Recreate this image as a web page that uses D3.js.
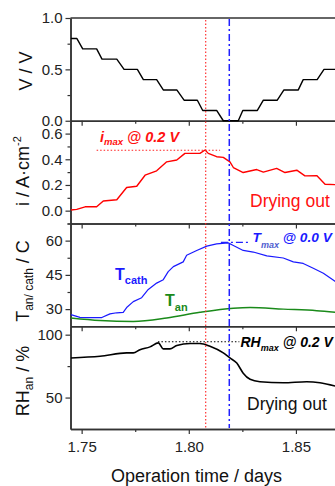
<!DOCTYPE html>
<html><head><meta charset="utf-8">
<script src="https://cdn.jsdelivr.net/npm/d3@7"></script>
<style>
html,body{margin:0;padding:0;background:#fff;}
svg{display:block;font-family:"Liberation Sans",Arial,sans-serif;}
</style></head>
<body><svg id="c" width="335" height="486"></svg>
<script>
// ---------- data ----------
const vTime = [1.7450,1.7478,1.7505,1.7570,1.7595,1.7664,1.7698,1.7760,1.7788,1.7850,1.7881,1.7944,1.7978,1.8040,1.8065,1.8130,1.8161,1.8231,1.8252,1.8320,1.8348,1.8413,1.8444,1.8511,1.8534,1.8599,1.8631,1.8729];
const vVolt = [0.8,0.8,0.7,0.7,0.6,0.6,0.5,0.5,0.4,0.4,0.3,0.3,0.2,0.2,0.1,0.1,0.0,0.0,0.1,0.1,0.2,0.2,0.3,0.3,0.4,0.4,0.5,0.5];

const iTime = [1.7450,1.7477,1.7516,1.7570,1.7601,1.7664,1.7710,1.7757,1.7796,1.7850,1.7897,1.7944,1.7982,1.8052,1.8076,1.8091,1.8130,1.8161,1.8192,1.8208,1.8254,1.8317,1.8348,1.8410,1.8449,1.8504,1.8542,1.8597,1.8636,1.8729];
const iCurr = [0.005,0.01,0.03,0.03,0.075,0.085,0.18,0.19,0.276,0.31,0.38,0.394,0.446,0.446,0.472,0.446,0.42,0.415,0.38,0.336,0.297,0.32,0.30,0.329,0.297,0.315,0.271,0.273,0.206,0.20];

const tcTime = [1.7450,1.7492,1.7539,1.7594,1.7632,1.7664,1.7694,1.7710,1.7741,1.7780,1.7811,1.7850,1.7881,1.7904,1.7928,1.7974,1.7990,1.8037,1.8084,1.8130,1.8184,1.8208,1.8254,1.8301,1.8364,1.8441,1.8488,1.8534,1.8581,1.8628,1.8684];
const tCath  = [27.6,26.4,26.3,26.3,27.9,28.4,28.6,30.7,33.3,35,38.6,41.4,42.9,46.4,48.6,50.7,53.6,55.7,57.6,58.6,59,57.9,55.7,55,53.3,52.4,50.7,50,47.9,45.7,42.1];

const taTime = [1.7450,1.7586,1.7741,1.7897,1.8052,1.8208,1.8286,1.8441,1.8597,1.8684];
const tAn    = [26.1,25.0,24.6,26.1,28.6,30.4,30.7,30.0,29.3,28.6];

const rhTime = [1.7450,1.7586,1.7710,1.7741,1.7772,1.7819,1.7858,1.7881,1.7912,1.7944,1.8006,1.8052,1.8099,1.8161,1.8192,1.8224,1.8254,1.8286,1.8332,1.8441,1.8550,1.8612,1.8684];
const rhAn   = [81.5,82.8,85.5,85.5,88.1,90.3,93.5,88.7,88.7,91.4,93,93,90.8,85.5,81.5,77.4,69.4,64.5,62.6,61.8,62.6,61.8,59.1];

const xTicks = [1.75,1.80,1.85];
const xMinor = [1.775,1.825];
const vTicks = [0.0,0.5,1.0], vMinor=[0.25,0.75];
const iTicks = [0.0,0.2,0.4,0.6], iMinor=[-0.1,0.1,0.3,0.5];
const tTicks = [30,45,60], tMinor=[37.5,52.5,67.5];
const rhTicks = [50,100], rhMinor=[75];

const tRed = 1.8079, tBlue = 1.8189;

// ---------- layout ----------
const svg = d3.select("#c");
const L = 70.5, R = 345, top0 = 18, ph = 102.75;
const x = d3.scaleLinear().domain([1.7448,1.8729]).range([L,R]);
const bands = [0,1,2,3].map(k=>[top0+k*ph, top0+(k+1)*ph]);
const yV  = d3.scaleLinear().domain([0,1]).range([bands[0][1],bands[0][0]]);
const yI  = d3.scaleLinear().domain([-0.1,0.7]).range([bands[1][1],bands[1][0]]);
const yT  = d3.scaleLinear().domain([22.5,67.5]).range([bands[2][1],bands[2][0]]);
const yRH = d3.scaleLinear().domain([25,106.7]).range([bands[3][1],bands[3][0]]);
const axisCol = "#333";

function styleAxis(g){
  g.selectAll("path").attr("stroke",axisCol).attr("stroke-width",1.5);
  g.selectAll("line").attr("stroke",axisCol).attr("stroke-width",1.2);
  g.selectAll("text").attr("fill","#222").style("font-size","15px").style("font-family",'"Liberation Sans",Arial,sans-serif');
}

// top line
svg.append("line").attr("x1",L).attr("x2",R).attr("y1",top0).attr("y2",top0).attr("stroke",axisCol).attr("stroke-width",1.5);

const panels = [[yV,vTicks,vMinor,d=>d.toFixed(1)],[yI,iTicks,iMinor,d=>d.toFixed(1)],[yT,tTicks,tMinor,d=>d3.format("d")(d)],[yRH,rhTicks,rhMinor,d=>d3.format("d")(d)]];
panels.forEach(([y,maj,mn,fmt],k)=>{
  const gl = svg.append("g").attr("transform",`translate(${L},0)`)
    .call(d3.axisLeft(y).tickValues(maj).tickFormat(fmt).tickSize(5).tickPadding(3).tickSizeOuter(0));
  styleAxis(gl);
  const gm = svg.append("g").attr("transform",`translate(${L},0)`)
    .call(d3.axisLeft(y).tickValues(mn).tickFormat("").tickSize(3).tickSizeOuter(0));
  styleAxis(gm);
  const last = k===3;
  const gb = svg.append("g").attr("transform",`translate(0,${bands[k][1]})`)
    .call(d3.axisBottom(x).tickValues(xTicks).tickFormat(last?d3.format(".2f"):"").tickSize(5).tickPadding(7).tickSizeOuter(0));
  styleAxis(gb);
  const gbm = svg.append("g").attr("transform",`translate(0,${bands[k][1]})`)
    .call(d3.axisBottom(x).tickValues(xMinor).tickFormat("").tickSize(3).tickSizeOuter(0));
  styleAxis(gbm);
});

// ---------- lines ----------
function drawLine(tArr,vArr,y,col,curve,w){
  const pts = tArr.map((t,i)=>[t,vArr[i]]);
  svg.append("path").datum(pts)
    .attr("d",d3.line().x(d=>x(d[0])).y(d=>y(d[1])).curve(curve||d3.curveLinear))
    .attr("fill","none").attr("stroke",col).attr("stroke-width",w||1.4).attr("stroke-linejoin","round");
}
drawLine(vTime,vVolt,yV,"#000");
drawLine(iTime,iCurr,yI,"#ff0000");
drawLine(tcTime,tCath,yT,"#1a1aff",d3.curveLinear,1.2);
drawLine(taTime,tAn,yT,"#1a8a1a",d3.curveMonotoneX,1.5);
drawLine(rhTime,rhAn,yRH,"#000",d3.curveMonotoneX,1.6);

// ---------- reference lines ----------
svg.append("line").attr("x1",x(tRed)).attr("x2",x(tRed)).attr("y1",20).attr("y2",428)
  .attr("stroke","#ff2020").attr("stroke-width",1.1).attr("stroke-dasharray","1.5,2");
svg.append("line").attr("x1",x(tBlue)).attr("x2",x(tBlue)).attr("y1",19).attr("y2",428)
  .attr("stroke","#2020ff").attr("stroke-width",1.5).attr("stroke-dasharray","7,3,2,3");

svg.append("line").attr("x1",x(1.7570)).attr("x2",x(1.8146)).attr("y1",yI(0.47)).attr("y2",yI(0.47))
  .attr("stroke","#ff2020").attr("stroke-width",1.1).attr("stroke-dasharray","1.5,2");
svg.append("line").attr("x1",x(1.8150)).attr("x2",x(1.8286)).attr("y1",yT(59.2)).attr("y2",yT(59.2))
  .attr("stroke","#2020ff").attr("stroke-width",1.2).attr("stroke-dasharray","7,3,2,3");
svg.append("line").attr("x1",x(1.7856)).attr("x2",x(1.8236)).attr("y1",yRH(94.4)).attr("y2",yRH(94.4))
  .attr("stroke","#000").attr("stroke-width",1.1).attr("stroke-dasharray","1.5,2");

// ---------- text ----------
function rich(xp,yp,parts,opt){
  const t = svg.append("text").attr("x",xp).attr("y",yp)
    .attr("fill",opt.fill||"#000").style("font-size",opt.size+"px")
    .style("font-weight",opt.weight||"normal").style("font-style",opt.style||"normal")
    .attr("text-anchor",opt.anchor||"start");
  if(opt.rotate) t.attr("transform",`rotate(-90,${xp},${yp})`);
  let cur=0;
  parts.forEach(p=>{
    const s = t.append("tspan").text(p.t);
    const dy = (p.dy||0)-cur; cur = p.dy||0;
    if(dy) s.attr("dy",dy);
    if(p.size) s.style("font-size",p.size+"px");
    if(p.fill) s.attr("fill",p.fill);
  });
  return t;
}
// axis titles
rich(31.5,71,[{t:"V / V"}],{size:18,anchor:"middle",rotate:true,fill:"#111"});
rich(28.5,171,[{t:"i / A·cm"},{t:"-2",size:11,dy:-8},{t:"",dy:0}],{size:18,anchor:"middle",rotate:true,fill:"#111"});
rich(28.5,281,[{t:"T"},{t:"an/ cath",size:12,dy:4},{t:" / C",dy:0}],{size:18,anchor:"middle",rotate:true,fill:"#111"});
rich(28.5,381,[{t:"RH"},{t:"an",size:12,dy:4},{t:"  / %",dy:0}],{size:18,anchor:"middle",rotate:true,fill:"#111"});
rich(196.5,482,[{t:"Operation time / days"}],{size:18,anchor:"middle",fill:"#111"});

// annotations
rich(100,141.7,[{t:"i"},{t:"max",size:9.5,dy:3.5},{t:" @ 0.2 V",dy:0}],{size:14.5,weight:"bold",style:"italic",fill:"#ff1010"});
rich(252.5,241.7,[{t:"T"},{t:"max",size:9,dy:6.5,fill:"#5060d0"},{t:" @ 0.0 V",dy:0}],{size:13.7,weight:"bold",style:"italic",fill:"#1a1aff"});
rich(240.5,347.3,[{t:"RH"},{t:"max",size:9,dy:3.5},{t:" @ 0.2 V",dy:0}],{size:14,weight:"bold",style:"italic",fill:"#000"});

rich(115,280,[{t:"T"},{t:"cath",size:11,dy:4}],{size:16,weight:"bold",fill:"#1a1aff"});
rich(165,306,[{t:"T"},{t:"an",size:11,dy:5}],{size:16,weight:"bold",fill:"#1a8a1a"});

rich(250,206.5,[{t:"Drying out"}],{size:17.5,fill:"#ff1010"});
rich(247,410,[{t:"Drying out"}],{size:17.5,fill:"#111"});
</script></body></html>
